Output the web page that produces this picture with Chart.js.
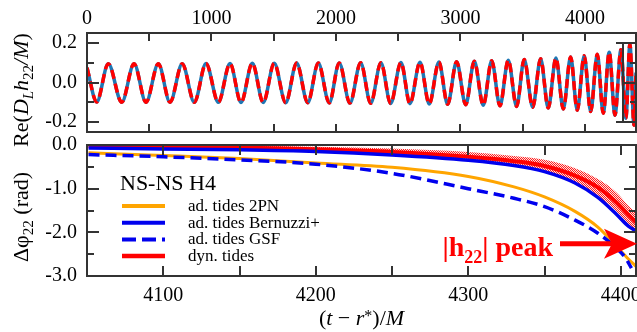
<!DOCTYPE html>
<html>
<head>
<meta charset="utf-8">
<script src="https://cdn.jsdelivr.net/npm/chart.js@4.4.1/dist/chart.umd.min.js"></script>
<style>
html, body { margin: 0; padding: 0; background: #fff; }
#wrap { position: relative; width: 637px; height: 332px; }
#wrap canvas { position: absolute; left: 0; top: 0; }
</style>
</head>
<body>
<div id="wrap">
  <canvas id="waveChart" width="637" height="332" style="width:637px;height:332px"></canvas>
  <canvas id="phaseChart" width="637" height="332" style="width:637px;height:332px"></canvas>
</div>
<script>
const SERIF = '"Liberation Serif", "DejaVu Serif", serif';

// top panel: Re(D_L h22 / M), extrema (t in M)
const waveT = [0, 78, 171, 279, 378, 474, 573, 667, 765, 862, 956, 1055, 1149, 1237, 1328, 1416,
  1504, 1596, 1684, 1773, 1858, 1946, 2026, 2112, 2198, 2279, 2361, 2439, 2522, 2594, 2675, 2749,
  2827, 2897, 2969, 3042, 3111, 3183, 3251, 3317, 3384, 3451, 3512, 3580, 3644, 3705, 3767, 3826,
  3885, 3938, 3994, 4046, 4099, 4147, 4195, 4241, 4289, 4329, 4361, 4394, 4410];
const waveV = [0.075, -0.098, 0.095, -0.1, 0.095, -0.1, 0.095, -0.1, 0.095, -0.1, 0.096, -0.1,
  0.096, -0.101, 0.097, -0.101, 0.097, -0.102, 0.098, -0.102, 0.098, -0.103, 0.099, -0.104,
  0.1, -0.105, 0.1, -0.106, 0.101, -0.107, 0.102, -0.108, 0.103, -0.11, 0.105, -0.112,
  0.107, -0.115, 0.11, -0.118, 0.113, -0.121, 0.116, -0.125, 0.12, -0.129, 0.124, -0.134,
  0.129, -0.14, 0.135, -0.147, 0.143, -0.155, 0.153, -0.165, 0.166, -0.18, 0.195, -0.215, 0.05];
const waveXTicks = [0, 1000, 2000, 3000, 4000];
const waveXMinor = [500, 1500, 2500, 3500];
const waveYTicks = [-0.2, 0, 0.2];
const waveYMinor = [-0.1, 0.1];

// bottom panel: dephasing (rad)
const phaseT = [4051, 4100, 4150, 4200, 4250, 4300, 4330, 4350, 4370, 4385, 4397, 4405, 4410];
const phase2PN = [-0.18, -0.24, -0.31, -0.41, -0.51, -0.72, -0.96, -1.19, -1.52, -1.88, -2.31, -2.61, -2.78];
const phaseBernuzzi = [-0.07, -0.09, -0.11, -0.15, -0.23, -0.35, -0.47, -0.61, -0.87, -1.2, -1.58, -1.86, -1.97];
const phaseDyn = [-0.03, -0.04, -0.06, -0.1, -0.16, -0.27, -0.37, -0.48, -0.7, -0.97, -1.31, -1.6, -1.77];
const phaseDynHi = [0.0, -0.01, -0.02, -0.04, -0.08, -0.16, -0.25, -0.34, -0.53, -0.78, -1.08, -1.39, -1.55];
const phaseDynLo = [-0.06, -0.07, -0.09, -0.13, -0.2, -0.33, -0.45, -0.59, -0.85, -1.16, -1.52, -1.83, -1.95];
const gsfT = [4051, 4100, 4150, 4200, 4250, 4300, 4330, 4350, 4370, 4385, 4397, 4403, 4407];
const phaseGSF = [-0.22, -0.27, -0.34, -0.44, -0.65, -1.0, -1.22, -1.41, -1.72, -2.02, -2.36, -2.58, -2.82];
const phaseXTicks = [4100, 4200, 4300, 4400];
const phaseXMinor = [4150, 4250, 4350];
const phaseYTicks = [0, -1, -2, -3];
const phaseYMinor = [-0.5, -1.5, -2.5];
const peakLevel = -2.26;

const pts = (xs, ys) => xs.map((x, i) => ({ x: x, y: ys[i] }));

// draws a row of text pieces (for sub/superscripts), centred on x
function drawRich(ctx, segs, x, y, rot, color) {
  ctx.save();
  ctx.translate(x, y);
  if (rot) ctx.rotate(rot);
  ctx.fillStyle = color || '#000';
  ctx.textBaseline = 'alphabetic';
  ctx.textAlign = 'left';
  let w = 0;
  segs.forEach(s => { ctx.font = s.f; s.w = ctx.measureText(s.t).width; w += s.w; });
  let cx = -w / 2;
  segs.forEach(s => { ctx.font = s.f; ctx.fillText(s.t, cx, s.dy || 0); cx += s.w; });
  ctx.restore();
  return w;
}

// keep the plot box fixed, whatever the edge labels need
const fixX = h => s => { s.height = h; s.paddingLeft = 0; s.paddingRight = 0; };
const fixY = w => s => { s.width = w; s.paddingTop = 0; s.paddingBottom = 0; };

// box + inward tick marks on all sides
function framePlugin(o) {
  return {
    id: 'frame',
    afterDatasetsDraw(chart) {
      const { ctx, chartArea: a, scales } = chart;
      ctx.save();
      ctx.strokeStyle = '#333';
      ctx.lineWidth = 2;
      ctx.strokeRect(a.left, a.top, a.right - a.left, a.bottom - a.top);
      ctx.beginPath();
      o.xTicks.concat(o.xMinor).forEach(v => {
        const px = Math.round(scales.x.getPixelForValue(v));
        ctx.moveTo(px, a.top); ctx.lineTo(px, a.top + o.xLen);
        ctx.moveTo(px, a.bottom); ctx.lineTo(px, a.bottom - o.xLen);
      });
      const yt = (list, len) => list.forEach(v => {
        const py = Math.round(scales.y.getPixelForValue(v));
        ctx.moveTo(a.left, py); ctx.lineTo(a.left + len, py);
        if (o.rightTicks) { ctx.moveTo(a.right, py); ctx.lineTo(a.right - len, py); }
      });
      yt(o.yTicks, 12);
      yt(o.yMinor, 7);
      ctx.stroke();
      ctx.restore();
    }
  };
}

const waveExtras = {
  id: 'waveExtras',
  afterDraw(chart) {
    const { ctx, chartArea: a, scales } = chart;
    const y = scales.y;
    // edge of the merger inset axis
    const ix = a.right - 13;
    ctx.save();
    ctx.strokeStyle = '#333';
    ctx.lineWidth = 2;
    ctx.beginPath();
    ctx.moveTo(ix, y.getPixelForValue(0.2)); ctx.lineTo(ix, y.getPixelForValue(-0.2));
    [0.2, 0, -0.2].forEach(v => {
      const py = Math.round(y.getPixelForValue(v));
      ctx.moveTo(ix - (v === 0 ? 0 : 7), py); ctx.lineTo(a.right + 1, py);
    });
    [0.1, -0.1].forEach(v => {
      const py = Math.round(y.getPixelForValue(v));
      ctx.moveTo(a.right - 6, py); ctx.lineTo(a.right + 1, py);
    });
    ctx.stroke();
    ctx.restore();
    const f = '22px ' + SERIF, fi = 'italic 22px ' + SERIF;
    const fs = '15px ' + SERIF, fsi = 'italic 15px ' + SERIF;
    drawRich(ctx, [
      { t: 'Re(', f: f }, { t: 'D', f: fi }, { t: 'L', f: fsi, dy: 5 },
      { t: 'h', f: fi }, { t: '22', f: fs, dy: 5 }, { t: '/M', f: fi }, { t: ')', f: f }
    ], 28, 90, -Math.PI / 2);
  }
};

new Chart(document.getElementById('waveChart'), {
  type: 'line',
  data: {
    datasets: [
      { label: 'dyn. tides', data: pts(waveT, waveV), borderColor: '#ff0000', borderWidth: 3.5, borderDash: [9, 5] },
      { label: 'NR', data: pts(waveT, waveV), borderColor: '#1f77b4', borderWidth: 3.5 }
    ]
  },
  options: {
    responsive: false,
    animation: false,
    events: [],
    layout: { padding: { left: 0, right: 1, top: 0, bottom: 200 } },
    elements: {
      point: { radius: 0 },
      line: { cubicInterpolationMode: 'monotone', borderCapStyle: 'butt' }
    },
    plugins: { legend: { display: false }, tooltip: { enabled: false } },
    scales: {
      x: {
        type: 'linear', position: 'top', min: 0, max: 4410,
        grid: { display: false, drawTicks: false }, border: { display: false },
        afterBuildTicks: s => { s.ticks = waveXTicks.map(v => ({ value: v })); },
        afterFit: fixX(33),
        ticks: { font: { family: SERIF, size: 20 }, color: '#000', padding: 2, maxRotation: 0, autoSkip: false, callback: v => String(v) }
      },
      y: {
        min: -0.25, max: 0.25,
        grid: { display: false, drawTicks: false }, border: { display: false },
        afterBuildTicks: s => { s.ticks = waveYTicks.map(v => ({ value: v })); },
        afterFit: fixY(87),
        ticks: { font: { family: SERIF, size: 20 }, color: '#000', padding: 10, callback: v => v.toFixed(1) }
      }
    }
  },
  plugins: [framePlugin({ xTicks: waveXTicks, xMinor: waveXMinor, yTicks: waveYTicks, yMinor: waveYMinor, xLen: 8, rightTicks: false }), waveExtras]
});

// stippled fill for the dyn. tides error band
const patCanvas = document.createElement('canvas');
patCanvas.width = 2; patCanvas.height = 2;
const pc = patCanvas.getContext('2d');
pc.fillStyle = 'rgb(255,225,225)'; pc.fillRect(0, 0, 2, 2);
pc.fillStyle = '#ff2020'; pc.fillRect(0, 0, 1, 1); pc.fillRect(1, 1, 1, 1);
const bandPattern = pc.createPattern(patCanvas, 'repeat');

const legendRows = [
  { label: 'ad. tides 2PN', color: '#ffa500', dash: [], width: 4 },
  { label: 'ad. tides Bernuzzi+', color: '#0000ee', dash: [], width: 4 },
  { label: 'ad. tides GSF', color: '#0000ee', dash: [14, 6], width: 4 },
  { label: 'dyn. tides', color: '#ff0000', dash: [], width: 4.5 }
];

const phaseExtras = {
  id: 'phaseExtras',
  afterDraw(chart) {
    const { ctx, chartArea: a, scales } = chart;
    ctx.save();
    // legend
    ctx.fillStyle = '#000';
    ctx.font = '22px ' + SERIF;
    ctx.textBaseline = 'alphabetic';
    ctx.fillText('NS-NS H4', a.left + 33, a.top + 45);
    ctx.font = '17px ' + SERIF;
    legendRows.forEach((r, i) => {
      const ry = a.top + 61 + i * 16.7;
      ctx.beginPath();
      ctx.strokeStyle = r.color;
      ctx.lineWidth = r.width;
      ctx.setLineDash(r.dash);
      ctx.moveTo(a.left + 35, ry); ctx.lineTo(a.left + 78, ry);
      ctx.stroke();
      ctx.fillText(r.label, a.left + 101, ry + 5);
    });
    ctx.setLineDash([]);
    // |h22| peak arrow
    const ay = scales.y.getPixelForValue(peakLevel);
    const tip = a.right + 1;
    ctx.fillStyle = '#ff0000';
    ctx.strokeStyle = '#ff0000';
    ctx.lineWidth = 5;
    ctx.beginPath();
    ctx.moveTo(tip - 77, ay); ctx.lineTo(tip - 20, ay);
    ctx.stroke();
    ctx.beginPath();
    ctx.moveTo(tip, ay);
    ctx.lineTo(tip - 33, ay - 15);
    ctx.lineTo(tip - 25, ay);
    ctx.lineTo(tip - 33, ay + 15);
    ctx.closePath();
    ctx.fill();
    ctx.restore();
    const fb = 'bold 28px ' + SERIF, fbs = 'bold 18px ' + SERIF;
    const segs = [{ t: '|h', f: fb }, { t: '22', f: fbs, dy: 7 }, { t: '| peak', f: fb }];
    ctx.save();
    let w = 0;
    segs.forEach(s => { ctx.font = s.f; w += ctx.measureText(s.t).width; });
    ctx.restore();
    drawRich(ctx, segs, tip - 84 - w / 2, ay + 12, 0, '#ff0000');
    // axis titles
    const f = '22px ' + SERIF, fi = 'italic 22px ' + SERIF, fs = '15px ' + SERIF;
    drawRich(ctx, [{ t: 'Δφ', f: f }, { t: '22', f: fs, dy: 5 }, { t: ' (rad)', f: f }], 28, 217, -Math.PI / 2);
    drawRich(ctx, [
      { t: '(', f: f }, { t: 't', f: fi }, { t: ' − ', f: f }, { t: 'r', f: fi },
      { t: '*', f: '16px ' + SERIF, dy: -4 }, { t: ')/', f: f }, { t: 'M', f: fi }
    ], (a.left + a.right) / 2, 325, 0);
  }
};

new Chart(document.getElementById('phaseChart'), {
  type: 'line',
  data: {
    datasets: [
      { label: 'ad. tides GSF', data: pts(gsfT, phaseGSF), borderColor: '#0000ee', borderWidth: 3.5, borderDash: [11, 6] },
      { label: 'ad. tides 2PN', data: pts(phaseT, phase2PN), borderColor: '#ffa500', borderWidth: 3 },
      { label: 'ad. tides Bernuzzi+', data: pts(phaseT, phaseBernuzzi), borderColor: '#0000ee', borderWidth: 3.5 },
      { label: 'dyn. tides', data: pts(phaseT, phaseDyn), borderColor: '#ff0000', borderWidth: 4 },
      { label: 'band hi', data: pts(phaseT, phaseDynHi), borderWidth: 0, borderColor: 'rgba(0,0,0,0)', backgroundColor: bandPattern, fill: '+1' },
      { label: 'band lo', data: pts(phaseT, phaseDynLo), borderWidth: 0, borderColor: 'rgba(0,0,0,0)' }
    ]
  },
  options: {
    responsive: false,
    animation: false,
    events: [],
    layout: { padding: { left: 0, right: 1, top: 145, bottom: 0 } },
    elements: {
      point: { radius: 0 },
      line: { cubicInterpolationMode: 'monotone', borderCapStyle: 'butt' }
    },
    plugins: { legend: { display: false }, tooltip: { enabled: false } },
    scales: {
      x: {
        type: 'linear', position: 'bottom', min: 4050, max: 4410,
        grid: { display: false, drawTicks: false }, border: { display: false },
        afterBuildTicks: s => { s.ticks = phaseXTicks.map(v => ({ value: v })); },
        afterFit: fixX(56),
        ticks: { font: { family: SERIF, size: 20 }, color: '#000', padding: 8, maxRotation: 0, autoSkip: false, callback: v => String(v) }
      },
      y: {
        min: -3, max: 0,
        grid: { display: false, drawTicks: false }, border: { display: false },
        afterBuildTicks: s => { s.ticks = phaseYTicks.map(v => ({ value: v })); },
        afterFit: fixY(87),
        ticks: { font: { family: SERIF, size: 20 }, color: '#000', padding: 10, callback: v => v.toFixed(1) }
      }
    }
  },
  plugins: [framePlugin({ xTicks: phaseXTicks, xMinor: phaseXMinor, yTicks: phaseYTicks, yMinor: phaseYMinor, xLen: 10, rightTicks: true }), phaseExtras]
});
</script>
</body>
</html>
